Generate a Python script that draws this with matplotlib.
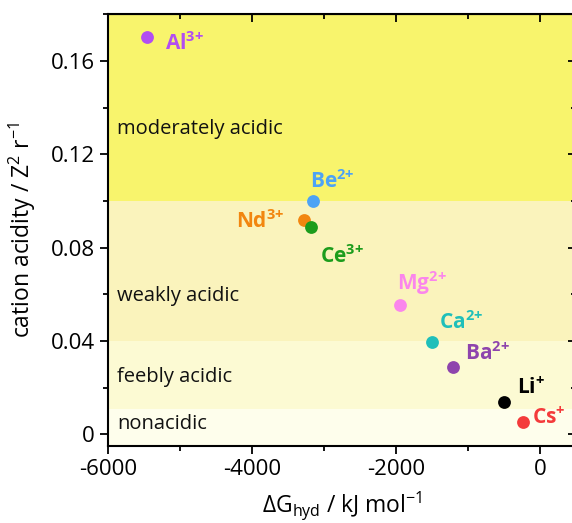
import matplotlib
matplotlib.use("Agg")
import matplotlib.pyplot as plt
from matplotlib.ticker import MultipleLocator

plt.rcParams['font.family'] = ['Open Sans', 'DejaVu Sans']
plt.rcParams['mathtext.fontset'] = 'custom'
plt.rcParams['mathtext.rm'] = 'Open Sans'
plt.rcParams['mathtext.it'] = 'Open Sans'
plt.rcParams['mathtext.bf'] = 'Open Sans:bold'

# data
ions = [r"Al$^{\mathbf{3}\mathbf{+}}$", r"Be$^{\mathbf{2}\mathbf{+}}$", r"Nd$^{\mathbf{3}\mathbf{+}}$",
        r"Ce$^{\mathbf{3}\mathbf{+}}$", r"Mg$^{\mathbf{2}\mathbf{+}}$", r"Ca$^{\mathbf{2}\mathbf{+}}$",
        r"Ba$^{\mathbf{2}\mathbf{+}}$", r"Li$^{\mathbf{+}}$", r"Cs$^{\mathbf{+}}$"]
dG_hyd = [-5460, -3150, -3280, -3180, -1945, -1500, -1210, -500, -235]
acidity = [0.1704, 0.1000, 0.0918, 0.0888, 0.0554, 0.0395, 0.0288, 0.0137, 0.0052]
colors = ["#B24DF2", "#4DA3F5", "#F2860F", "#1C9C1C", "#FA86EC",
          "#1FBFBA", "#8E44AD", "#000000", "#F43B3B"]
label_offsets = [(13, -5), (-2, 14), (-14, -1), (6.5, -21.5), (-2, 16),
                 (5, 14), (9, 10), (9, 11), (6.5, 3.5)]
label_ha = ['left', 'left', 'right', 'left', 'left', 'left', 'left', 'left', 'left']

band_names = ["nonacidic", "feebly acidic", "weakly acidic", "moderately acidic"]
band_edges = [-0.01, 0.011, 0.04, 0.10, 0.20]
band_colors = ["#FEFEEC", "#FCFAD3", "#FAF3BC", "#F8F46C"]
band_text_y = [0.0045, 0.0245, 0.0595, 0.131]

fig = plt.figure(figsize=(5.72, 5.23), dpi=100)
ax = fig.add_axes([0.189, 0.147, 0.818, 0.826])

for lo, hi, c in zip(band_edges[:-1], band_edges[1:], band_colors):
    ax.axhspan(lo, hi, color=c, lw=0, zorder=0)
for name, ty in zip(band_names, band_text_y):
    ax.text(-5870, ty, name, fontsize=14.5, va='center', ha='left', color='#111111')

for x, y, c, lab, off, ha in zip(dG_hyd, acidity, colors, ions, label_offsets, label_ha):
    ax.scatter([x], [y], s=85, color=c, zorder=3, lw=0)
    ax.annotate(lab, (x, y), xytext=off, textcoords='offset points',
                color=c, fontsize=15, fontweight='bold', zorder=4,
                ha=ha, va='center')

ax.set_xlim(-6000, 500)
ax.set_ylim(-0.005, 0.180)
ax.set_xticks([-6000, -4000, -2000, 0])
ax.set_xticklabels(["-6000", "-4000", "-2000", "0"])
ax.set_yticks([0, 0.04, 0.08, 0.12, 0.16])
ax.set_yticklabels(["0", "0.04", "0.08", "0.12", "0.16"])
ax.xaxis.set_minor_locator(MultipleLocator(1000))
ax.yaxis.set_minor_locator(MultipleLocator(0.02))
ax.tick_params(axis='both', which='major', labelsize=16, length=6, width=1.3, direction='out')
ax.tick_params(axis='both', which='minor', length=3.5, width=1.3, direction='out')

for s in ax.spines.values():
    s.set_linewidth(1.5)

# inward ticks on top and right
axt = ax.secondary_xaxis('top')
axt.set_xticks([-6000, -4000, -2000, 0])
axt.xaxis.set_minor_locator(MultipleLocator(1000))
axt.tick_params(which='major', direction='in', length=6, width=1.3, labeltop=False)
axt.tick_params(which='minor', direction='in', length=3.5, width=1.3)
axr = ax.secondary_yaxis('right')
axr.set_yticks([0, 0.04, 0.08, 0.12, 0.16])
axr.yaxis.set_minor_locator(MultipleLocator(0.02))
axr.tick_params(which='major', direction='in', length=6, width=1.3, labelright=False)
axr.tick_params(which='minor', direction='in', length=3.5, width=1.3)

ax.set_xlabel(r"$\Delta$G$_{\mathregular{hyd}}$ / kJ mol$^{\mathregular{-1}}$", fontsize=16.5, labelpad=6)
ax.set_ylabel(r"cation acidity / Z$^{\mathregular{2}}$ r$^{\mathregular{-1}}$", fontsize=16.5, labelpad=9)

fig.savefig("out.png", dpi=100)
